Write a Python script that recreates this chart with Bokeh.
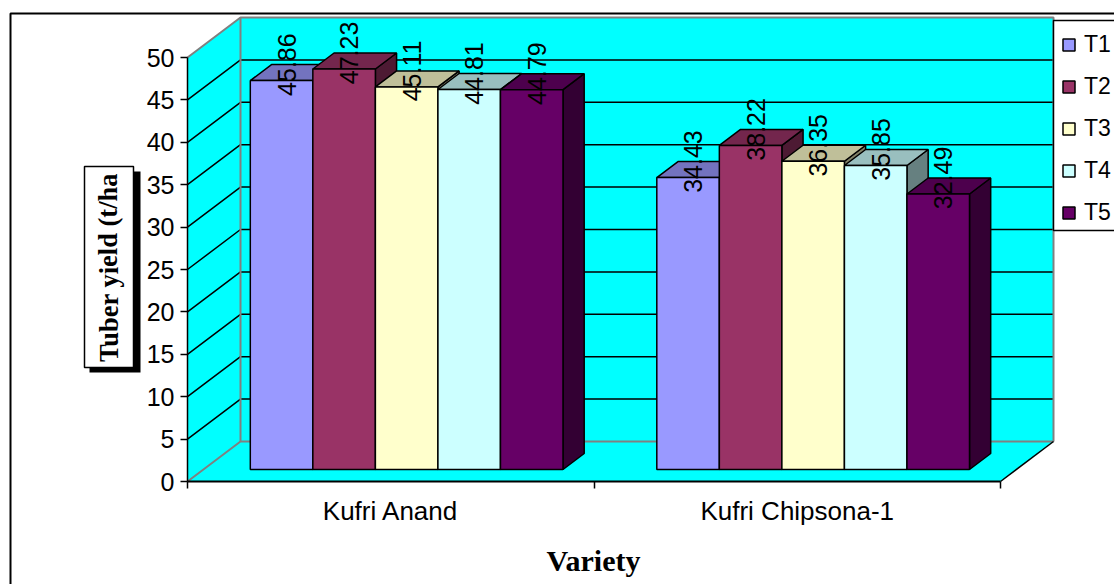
from bokeh.embed import file_html
from bokeh.resources import INLINE
from bokeh.plotting import figure
from bokeh.models import LinearAxis, FixedTicker, Legend, LegendItem
from bokeh.core.properties import value

# Data: tuber yield (t/ha) per variety and treatment
varieties = ["Kufri Anand", "Kufri Chipsona-1"]
treatments = ["T1", "T2", "T3", "T4", "T5"]
t1 = [45.86, 34.43]
t2 = [47.23, 38.22]
t3 = [45.11, 36.35]
t4 = [44.81, 35.85]
t5 = [44.79, 32.49]
series = [t1, t2, t3, t4, t5]
value_ticks = [0, 5, 10, 15, 20, 25, 30, 35, 40, 45, 50]

front_colors = ["#9999FF", "#993366", "#FFFFCC", "#CCFFFF", "#660066"]
top_colors = ["#7373BF", "#73264D", "#BFBF99", "#99BFBF", "#4D004D"]
side_colors = ["#4D4D80", "#4D1A33", "#808066", "#668080", "#330033"]
wall_color = "#00FFFF"
edge_gray = "#808080"
sans = "Liberation Sans"
serif = "Liberation Serif"

# Page layout and scale factors
W, H = 1114, 584
ORIGIN_X, ORIGIN_Y = 187, 481
PX_PER_CAT = 406.5
PX_PER_UNIT = 8.48
VALUE_MAX = 50

# Oblique projection: depth 1 is the back wall of the box
DEPTH_X = 53 / PX_PER_CAT
DEPTH_Y = 40 / PX_PER_UNIT
BAR_D0, BAR_D1 = 0.3, 0.7
LABEL_DX = 5 / PX_PER_CAT
BAR_W = 1 / 6.5
HALF_GAP = 0.75 * BAR_W


def px(x):
    return (x - ORIGIN_X) / PX_PER_CAT


def py(y):
    return (ORIGIN_Y - y) / PX_PER_UNIT


n_cat = len(varieties)

p = figure(
    width=W, height=H,
    x_range=(px(0), px(W)), y_range=(py(H), py(0)),
    x_axis_location=None, y_axis_location=None,
    toolbar_location=None, output_backend="svg",
    min_border=0, outline_line_color=None,
    background_fill_color="white", border_fill_color="white",
)
p.grid.visible = False

# Outer frame, running off the right and bottom of the page
p.quad(left=[px(10)], right=[px(W + 20)], bottom=[py(H + 20)], top=[py(13)],
       fill_color=None, line_color="black", line_width=2)

# Floor, side wall and back wall
p.patch([0, DEPTH_X, n_cat + DEPTH_X, n_cat], [0, DEPTH_Y, DEPTH_Y, 0],
        fill_color=wall_color, line_color=None)
p.patch([0, DEPTH_X, DEPTH_X, 0],
        [0, DEPTH_Y, VALUE_MAX + DEPTH_Y, VALUE_MAX],
        fill_color=wall_color, line_color=None)
p.quad(left=[DEPTH_X], right=[n_cat + DEPTH_X], bottom=[DEPTH_Y],
       top=[VALUE_MAX + DEPTH_Y], fill_color=wall_color, line_color=None)

# Gridlines folded across the side wall and the back wall
inner = value_ticks[1:-1]
p.multi_line(
    [[0, DEPTH_X, n_cat + DEPTH_X] for _ in inner],
    [[v, v + DEPTH_Y, v + DEPTH_Y] for v in inner],
    line_color="black", line_width=1.5,
)
p.multi_line(
    [[0, DEPTH_X, n_cat + DEPTH_X, n_cat + DEPTH_X],
     [0, DEPTH_X, n_cat + DEPTH_X],
     [DEPTH_X, DEPTH_X]],
    [[VALUE_MAX, VALUE_MAX + DEPTH_Y, VALUE_MAX + DEPTH_Y, DEPTH_Y],
     [0, DEPTH_Y, DEPTH_Y],
     [DEPTH_Y, VALUE_MAX + DEPTH_Y]],
    line_color=edge_gray, line_width=2,
)
p.line([n_cat, n_cat + DEPTH_X], [0, DEPTH_Y], line_color="black", line_width=1.5)

# Bars, painted left to right so nearer faces overlap correctly
legend_items = []
label_x, label_y, label_text = [], [], []
for s, vals in enumerate(series):
    lefts = [c + HALF_GAP + s * BAR_W + BAR_D0 * DEPTH_X for c in range(n_cat)]
    rights = [l + BAR_W for l in lefts]
    bottoms = [BAR_D0 * DEPTH_Y] * n_cat
    tops = [v + BAR_D0 * DEPTH_Y for v in vals]
    dx = (BAR_D1 - BAR_D0) * DEPTH_X
    dy = (BAR_D1 - BAR_D0) * DEPTH_Y
    p.patches(
        [[r, r + dx, r + dx, r] for r in rights],
        [[b, b + dy, t + dy, t] for b, t in zip(bottoms, tops)],
        fill_color=side_colors[s], line_color="black", line_width=1.5,
    )
    p.patches(
        [[l, l + dx, r + dx, r] for l, r in zip(lefts, rights)],
        [[t, t + dy, t + dy, t] for t in tops],
        fill_color=top_colors[s], line_color="black", line_width=1.5,
    )
    front = p.quad(left=lefts, right=rights, bottom=bottoms, top=tops,
                   fill_color=front_colors[s], line_color="black", line_width=1.5)
    legend_items.append(LegendItem(label=treatments[s], renderers=[front]))
    for l, t, v in zip(lefts, tops, vals):
        label_x.append(l + BAR_W / 2 + LABEL_DX)
        label_y.append(t + dy)
        label_text.append(f"{v:.2f}")

# Value labels, turned to read bottom to top
p.text(label_x, label_y, text=label_text, angle=1.5708,
       text_align="center", text_baseline="middle",
       text_font=value(sans), text_font_size="25px", text_color="black")

# Value axis on the front left edge
y_axis = LinearAxis(
    fixed_location=0, bounds=(0, VALUE_MAX),
    ticker=FixedTicker(ticks=value_ticks, minor_ticks=[]),
    major_tick_in=0, major_tick_out=7, major_tick_line_width=1.5,
    axis_line_color="black", axis_line_width=1.5,
    major_label_standoff=6,
    major_label_text_font=sans, major_label_text_font_size="25px",
    major_label_text_color="black",
)
p.add_layout(y_axis, "left")

# Category axis: separators as minor ticks, names at the category centres
x_axis = LinearAxis(
    fixed_location=0, bounds=(0, n_cat),
    ticker=FixedTicker(ticks=[0.5, 1.5], minor_ticks=[0, 1, 2]),
    major_tick_in=0, major_tick_out=0,
    minor_tick_in=0, minor_tick_out=7, minor_tick_line_width=1.5,
    major_label_overrides={0.5: varieties[0], 1.5: varieties[1]},
    axis_line_color="black", axis_line_width=2,
    major_label_standoff=7,
    major_label_text_font=sans, major_label_text_font_size="26px",
    major_label_text_color="black",
)
p.add_layout(x_axis, "below")

# Axis titles; the vertical one sits in a white box with a hard shadow
p.quad(left=[px(89)], right=[px(140)], bottom=[py(372)], top=[py(171)],
       fill_color="black", line_color=None)
p.quad(left=[px(84)], right=[px(133)], bottom=[py(367)], top=[py(166)],
       fill_color="white", line_color="black", line_width=1.5)
p.text([px(108)], [py(267)], text=["Tuber yield (t/ha"], angle=1.5708,
       text_align="center", text_baseline="middle",
       text_font=value(serif), text_font_style="bold", text_font_size="26.5px",
       text_color="black")
p.text([px(593)], [py(560)], text=["Variety"],
       text_align="center", text_baseline="middle",
       text_font=value(serif), text_font_style="bold", text_font_size="30px",
       text_color="black")

# Legend box on the right, cut by the page edge
p.quad(left=[px(1053)], right=[px(W + 20)], bottom=[py(230)], top=[py(20)],
       fill_color="white", line_color="black", line_width=1.5)
legend = Legend(
    items=legend_items,
    location=(1061, H - 226),
    orientation="vertical",
    glyph_width=15, glyph_height=15,
    label_width=30, label_height=15,
    label_standoff=8,
    spacing=15,
    padding=10, margin=0,
    label_text_font=sans, label_text_font_size="23px",
    label_text_color="black", label_text_baseline="middle",
    border_line_color=None, background_fill_alpha=0,
)
p.add_layout(legend, "center")

open("out.html", "w").write(file_html(p, INLINE))
